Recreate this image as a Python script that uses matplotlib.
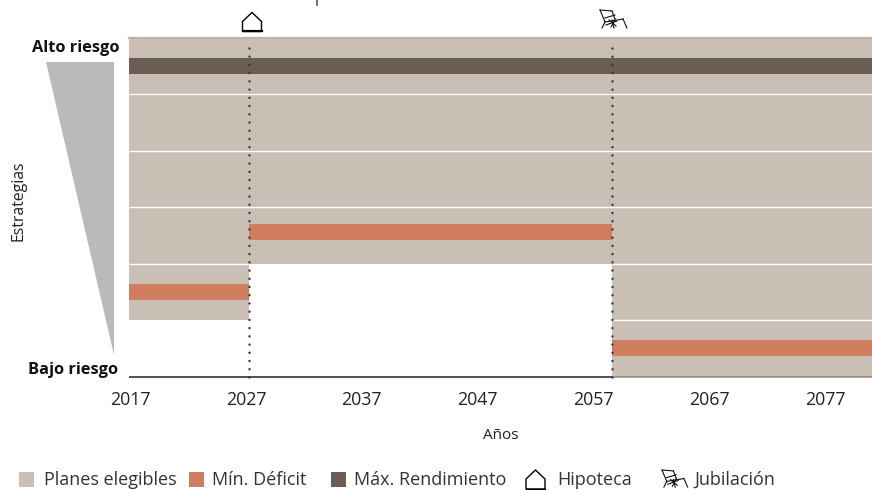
import matplotlib.pyplot as plt
from matplotlib.patches import Polygon, Rectangle
from matplotlib.lines import Line2D

plt.rcParams['font.family'] = ['Open Sans', 'DejaVu Sans']

# Time axis and the two life events
start_year = 2017
end_year = 2081
tick_years = [2017, 2027, 2037, 2047, 2057, 2067, 2077]
mortgage_year = 2027.3
retirement_year = 2058.6

# Strategy rows run from 0 (low risk) to 5 (high risk)
n_rows = 6
period_starts = [2017, 2027.3, 2058.6]
period_ends = [2027.3, 2058.6, 2081]
eligible_lowest_row = [1, 2, 0]
min_deficit_row = [1.5, 2.56, 0.5]
max_return_row = [5.5, 5.5, 5.5]

ELIGIBLE = '#c9bfb5'
DEFICIT = '#cf7d5e'
RETURN = '#6b5c54'
TEXT = '#222222'

fig = plt.figure(figsize=(8.72, 4.9), dpi=100)
W, H = 872, 490
ax = fig.add_axes([129 / W, 1 - 376.5 / H, (872 - 129) / W, (376.5 - 38) / H])
ax.set_xlim(start_year, end_year)
ax.set_ylim(0, n_rows)
band = 0.285

for s, e, low, d, r in zip(period_starts, period_ends, eligible_lowest_row,
                           min_deficit_row, max_return_row):
    ax.barh(low, e - s, left=s, height=n_rows - low, align='edge', color=ELIGIBLE, lw=0)
    ax.barh(d, e - s, left=s, height=band, color=DEFICIT, lw=0)
    ax.barh(r, e - s, left=s, height=band, color=RETURN, lw=0)
    # white row separators only where the plans are eligible
    for row in range(low + 1, n_rows):
        ax.plot([s, e], [row, row], color='white', lw=1, solid_capstyle='butt', zorder=3)

ax.axhline(n_rows, color='#b9b3ac', lw=1.6, zorder=4, clip_on=False)
ax.plot([start_year, retirement_year], [0, 0], color='#222222', lw=1.1, clip_on=False, zorder=4,
        solid_capstyle='butt')
ax.plot([retirement_year, end_year], [0, 0], color='#8a8580', lw=1.1, clip_on=False, zorder=4,
        solid_capstyle='butt')

for year in [mortgage_year, retirement_year]:
    ax.plot([year, year], [0, 5.86], color='#3a3a3a', lw=1.8,
            dashes=(0.01, 3.28), dash_capstyle='round', zorder=5, clip_on=False)

for sp in ax.spines.values():
    sp.set_visible(False)
ax.set_yticks([])
ax.set_xticks(tick_years)
# tick labels sit slightly to the left of the year grid
ax.set_xticklabels([])
ax.tick_params(length=0)
for i, y in enumerate(tick_years):
    fig.text((130 + i * 115.9) / W, 1 - 400 / H, str(y), fontsize=12.8, color=TEXT,
             ha='center', va='center')

fig.text(501 / W, 1 - 435 / H, 'Años', fontsize=11, color=TEXT, ha='center', va='center')
fig.text(18 / W, 1 - 200.5 / H, 'Estrategias', fontsize=11.4, color=TEXT, rotation=90,
         ha='center', va='center')
fig.text(119 / W, 1 - 48 / H, 'Alto riesgo', fontsize=11.8, fontweight='bold', color='#111111',
         ha='right', va='center')
fig.text(118 / W, 1 - 370.5 / H, 'Bajo riesgo', fontsize=11.8, fontweight='bold', color='#111111',
         ha='right', va='center')


def px(points):
    return [(x / W, 1 - y / H) for x, y in points]


fig.add_artist(Polygon(px([(46, 62), (114, 62), (114, 355)]), closed=True, fc='#bababa', ec='none',
                       transform=fig.transFigure))

# stem of the heading that runs off the top edge
fig.add_artist(Line2D(*zip(*px([(317, 0), (317, 5)])), color='#444444', lw=1.1,
                      transform=fig.transFigure))


def house(cx, base, bottom_lw):
    pts = [(cx - 9.5, base), (cx - 9.5, base - 10), (cx, base - 19),
           (cx + 9.5, base - 10), (cx + 9.5, base)]
    fig.add_artist(Polygon(px(pts), closed=True, fc='white', ec='black', lw=1.0,
                           transform=fig.transFigure))
    fig.add_artist(Line2D(*zip(*px([pts[0], pts[4]])), color='black', lw=bottom_lw,
                          transform=fig.transFigure))


def chair(x0, y0, s=1.0):
    # small deck chair sketched from line segments
    segs = [[(0, 0), (12, 1)], [(0, 0), (5, 12)], [(5, 12), (2, 18)], [(12, 1), (15, 9)],
            [(5, 12), (23, 9)], [(5, 8), (15, 5)], [(23, 9), (27, 18)], [(12, 10), (14, 18)],
            [(9, 10), (16, 16)], [(6, 15), (17, 11)], [(15, 9), (11, 17)]]
    for seg in segs:
        pts = px([(x0 + a * s, y0 + b * s) for a, b in seg])
        fig.add_artist(Line2D(*zip(*pts), color='#111111', lw=0.8, transform=fig.transFigure))


house(252, 31.5, 1.6)
chair(600, 10)

# legend row
legend_y = 480
for x, color in [(19, ELIGIBLE), (189, DEFICIT), (331, RETURN)]:
    fig.add_artist(Rectangle((x / W, 1 - 487 / H), 15 / W, 15 / H, fc=color, ec='none',
                             transform=fig.transFigure))
for x, label in [(44, 'Planes elegibles'), (212, 'Mín. Déficit'), (354, 'Máx. Rendimiento'),
                 (557, 'Hipoteca'), (694, 'Jubilación')]:
    fig.text(x / W, 1 - legend_y / H, label, fontsize=13, color='#333333', ha='left', va='center')
house(535.5, 489, 1.0)
chair(662, 470, 0.95)

plt.savefig('out.png', dpi=100)
